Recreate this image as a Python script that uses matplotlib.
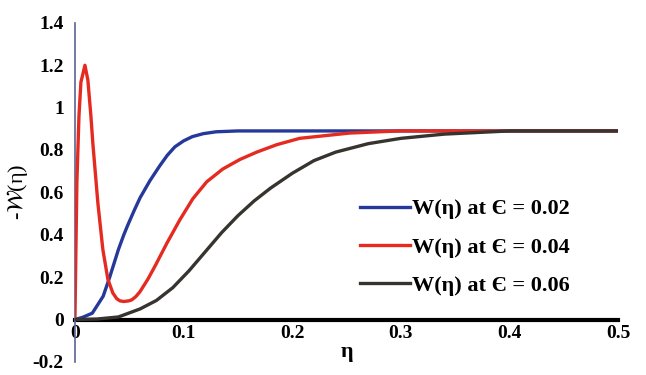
import matplotlib
matplotlib.use("Agg")
import matplotlib.pyplot as plt

# valores
eta_azul = [0, 0.007, 0.016, 0.026, 0.032, 0.040, 0.045, 0.049, 0.055, 0.060,
            0.069, 0.078, 0.085, 0.092, 0.100, 0.108, 0.118, 0.130, 0.15, 0.19,
            0.3, 0.4, 0.5]
w_azul = [0, 0.01, 0.03, 0.11, 0.20, 0.33, 0.40, 0.45, 0.52, 0.575,
          0.655, 0.725, 0.775, 0.815, 0.843, 0.863, 0.877, 0.886, 0.89, 0.89,
          0.89, 0.89, 0.89]

eta_rojo = [0, 0.0009, 0.0018, 0.0037, 0.0055, 0.0092, 0.0119, 0.0147, 0.0165,
            0.0211, 0.0257, 0.0303, 0.0349, 0.0385, 0.0414, 0.045, 0.0497,
            0.0524, 0.056, 0.0597, 0.0671, 0.0735, 0.0846, 0.0965, 0.1085,
            0.1213, 0.136, 0.1517, 0.1673, 0.1857, 0.2068, 0.2528, 0.2987,
            0.3906, 0.5]
w_rojo = [0, 0.33, 0.65, 0.96, 1.12, 1.20, 1.13, 0.96, 0.83,
          0.55, 0.33, 0.19, 0.125, 0.098, 0.088, 0.085, 0.088,
          0.093, 0.108, 0.13, 0.19, 0.25, 0.36, 0.47, 0.57,
          0.65, 0.71, 0.755, 0.79, 0.825, 0.855, 0.88, 0.89,
          0.89, 0.89]

eta_negro = [0, 0.02, 0.04, 0.06, 0.075, 0.09, 0.105, 0.12, 0.135, 0.15, 0.165,
             0.18, 0.2, 0.22, 0.24, 0.27, 0.3, 0.34, 0.4, 0.45, 0.5]
w_negro = [0, 0.002, 0.012, 0.05, 0.09, 0.15, 0.23, 0.32, 0.41, 0.49, 0.56,
           0.62, 0.69, 0.75, 0.79, 0.83, 0.855, 0.875, 0.89, 0.89, 0.89]

etiquetas = ["W(η) at Є = 0.02", "W(η) at Є = 0.04", "W(η) at Є = 0.06"]
xticks = [0, 0.1, 0.2, 0.3, 0.4, 0.5]
xtick_labels = ["0", "0.1", "0.2", "0.3", "0.4", "0.5"]
yticks = [-0.2, 0, 0.2, 0.4, 0.6, 0.8, 1.0, 1.2, 1.4]
ytick_labels = ["-0.2", "0", "0.2", "0.4", "0.6", "0.8", "1", "1.2", "1.4"]

plt.rcParams['font.family'] = ['Liberation Serif', 'DejaVu Serif']
plt.rcParams['mathtext.fontset'] = 'stix'

fig = plt.figure(figsize=(6.46, 3.75), dpi=100)
ax = fig.add_axes([0.116, 0.035, 0.841, 0.904])

ax.plot(eta_azul, w_azul, color='#26399a', linewidth=2.4, label=etiquetas[0], zorder=3)
ax.plot(eta_rojo, w_rojo, color='#e52b20', linewidth=2.4, label=etiquetas[1], zorder=4)
ax.plot(eta_negro, w_negro, color='#37332f', linewidth=2.4, label=etiquetas[2], zorder=5)

ax.set_xlim(0, 0.5)
ax.set_ylim(-0.2, 1.4)

# ejes al estilo excel
ax.spines['top'].set_visible(False)
ax.spines['right'].set_visible(False)
ax.spines['bottom'].set_position(('data', 0))
ax.spines['bottom'].set_linewidth(3)
ax.spines['bottom'].set_color('black')
ax.spines['bottom'].set_zorder(2)
ax.spines['left'].set_linewidth(1.2)
ax.spines['left'].set_color('#5a6494')

ax.set_xticks(xticks)
ax.set_xticklabels(xtick_labels)
ax.set_yticks(yticks)
ax.set_yticklabels(ytick_labels)
ax.tick_params(length=0, labelsize=14)
ax.tick_params(axis='x', pad=4)
ax.tick_params(axis='y', pad=8)
for t in ax.get_xticklabels() + ax.get_yticklabels():
    t.set_fontweight('bold')

ax.set_xlabel('η', fontsize=16, fontweight='bold', labelpad=0)
ax.set_ylabel(r'-$\mathcal{W}$(η)', fontsize=16, labelpad=2)

ax.legend(loc='upper left', bbox_to_anchor=(0.488, 0.54), frameon=False,
          handlelength=2.25, handletextpad=0.1, labelspacing=0.8,
          prop={'family': 'Liberation Serif', 'weight': 'bold', 'size': 16})

fig.savefig('out.png', dpi=100)
